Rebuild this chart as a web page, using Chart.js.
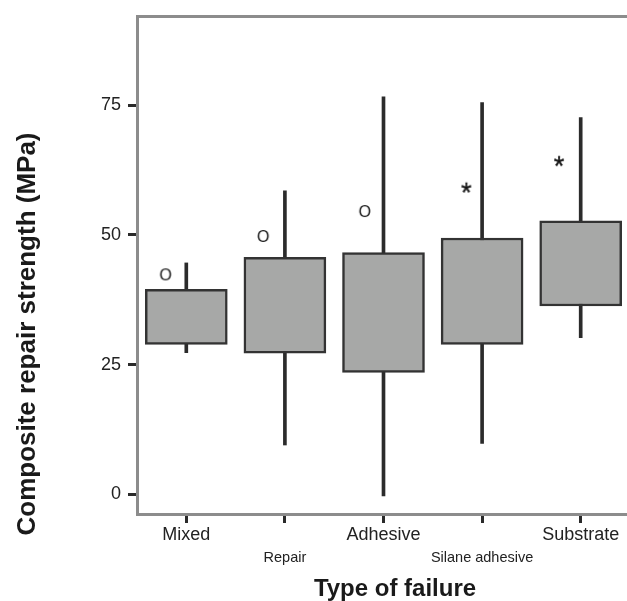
<!DOCTYPE html>
<html>
<head>
<meta charset="utf-8">
<script src="https://cdn.jsdelivr.net/npm/chart.js@4.4.1/dist/chart.umd.min.js"></script>
<style>
  html, body { margin: 0; padding: 0; background: #fff; overflow: hidden; }
</style>
</head>
<body>
<canvas id="boxChart" width="635" height="601"></canvas>
<script>
// categories on the x axis
const failureTypes = ["Mixed", "Repair", "Adhesive", "Silane adhesive", "Substrate"];
// box edges (quartiles) and whisker ends, MPa
const q1 = [28.9, 27.2, 23.5, 28.9, 36.3];
const q3 = [39.5, 45.7, 46.6, 49.4, 52.7];
const whiskerLow = [27.3, 9.5, -0.3, 9.8, 30.2];
const whiskerHigh = [44.6, 58.5, 76.6, 75.5, 72.6];
// outliers (o) and extremes (*), x given as category position
const outlierPos = [-0.21, 0.78, 1.81, 2.84, 3.78];
const outlierVal = [42.4, 49.8, 54.6, 59.1, 64.2];
const outlierMark = ["O", "O", "O", "*", "*"];
const yTicks = [0, 25, 50, 75];
const yTitle = "Composite repair strength (MPa)";
const xTitle = "Type of failure";

const fontFamily = "'Liberation Sans', Arial, sans-serif";
Chart.defaults.font.family = fontFamily;
Chart.defaults.color = "#222";

const axisGrey = "#8c8c8c";
const tickDark = "#2a2a2a";

// 🔹 SPSS-like text markers for outliers
function makeMarker(ch, size, stroke) {
  let c = document.createElement("canvas");
  c.width = 24;
  c.height = 24;
  let g = c.getContext("2d");
  g.font = size + "px " + fontFamily;
  g.fillStyle = "#141414";
  g.strokeStyle = "#141414";
  g.lineWidth = stroke;
  g.textAlign = "center";
  g.textBaseline = "alphabetic";
  let m = g.measureText(ch);
  let h = m.actualBoundingBoxAscent - m.actualBoundingBoxDescent;
  g.fillText(ch, 12, 12 + h / 2);
  if (stroke) g.strokeText(ch, 12, 12 + h / 2);
  return c;
}
const markers = { O: makeMarker("O", 16, 0), "*": makeMarker("*", 27, 0.4) };

// 🔹 Axis titles placed like the SPSS output (slightly off the axis centre)
const titlePlugin = {
  id: "axisTitles",
  afterDraw(chart) {
    let g = chart.ctx;
    g.save();
    g.fillStyle = "#1a1a1a";
    g.textAlign = "center";
    g.textBaseline = "middle";
    g.font = "bold 24px " + fontFamily;
    g.fillText(xTitle, 395, 589);
    g.translate(28, 334);
    g.rotate(-Math.PI / 2);
    g.font = "bold 26px " + fontFamily;
    g.fillText(yTitle, 0, 0);
    g.restore();
  },
};

// 🔹 Render box plot
let ctx = document.getElementById("boxChart").getContext("2d");

new Chart(ctx, {
  type: "bar",
  data: {
    datasets: [
      {
        label: "outliers",
        type: "scatter",
        data: outlierPos.map((x, i) => ({ x: x, y: outlierVal[i] })),
        pointStyle: (c) => markers[outlierMark[c.dataIndex]],
        order: 0,
      },
      {
        label: "box",
        data: failureTypes.map((_, i) => ({ x: i, y: [q1[i], q3[i]] })),
        backgroundColor: "#a7a8a7",
        borderColor: "#333",
        borderWidth: 2.5,
        borderSkipped: false,
        barThickness: 82,
        grouped: false,
        order: 1,
      },
      {
        label: "whisker",
        data: failureTypes.map((_, i) => ({ x: i, y: [whiskerLow[i], whiskerHigh[i]] })),
        backgroundColor: "#2b2b2b",
        borderWidth: 0,
        barThickness: 3,
        grouped: false,
        order: 2,
      },
    ],
  },
  options: {
    responsive: false,
    animation: false,
    layout: { padding: { top: 16, right: 1, left: 0, bottom: 0 } },
    plugins: {
      legend: { display: false },
      tooltip: { enabled: false },
    },
    scales: {
      x: {
        type: "linear",
        position: "bottom",
        offset: false,
        min: -0.5,
        max: 4.5,
        afterBuildTicks: (s) => {
          s.ticks = failureTypes.map((_, i) => ({ value: i }));
        },
        grid: {
          offset: false,
          drawOnChartArea: false,
          tickLength: 9,
          tickWidth: 3,
          tickColor: tickDark,
        },
        border: { color: axisGrey, width: 3 },
        ticks: {
          autoSkip: false,
          maxRotation: 0,
          padding: 1,
          color: "#222",
          callback: (v) => (v % 2 ? ["", failureTypes[v]] : failureTypes[v]),
          font: (c) =>
            c.index % 2
              ? { size: 14.5, lineHeight: 1.55 }
              : { size: 18, lineHeight: 1.2 },
        },
        afterFit: (s) => {
          s.height = 87;
          s.paddingLeft = 0;
          s.paddingRight = 0;
        },
      },
      xTop: {
        type: "linear",
        position: "top",
        min: 0,
        max: 1,
        grid: { display: false, drawTicks: false },
        ticks: { display: false },
        border: { color: axisGrey, width: 3 },
        afterFit: (s) => {
          s.height = 0;
          s.paddingLeft = 0;
          s.paddingRight = 0;
        },
      },
      y: {
        type: "linear",
        min: -3.8,
        max: 92.2,
        afterBuildTicks: (s) => {
          s.ticks = yTicks.map((v) => ({ value: v }));
        },
        grid: {
          drawOnChartArea: false,
          tickLength: 9,
          tickWidth: 3,
          tickColor: tickDark,
        },
        border: { color: axisGrey, width: 3 },
        ticks: {
          padding: 7,
          color: "#222",
          font: { size: 18 },
        },
        afterFit: (s) => {
          s.width = 137;
          s.paddingTop = 0;
          s.paddingBottom = 0;
        },
      },
    },
  },
  plugins: [titlePlugin],
});
</script>
</body>
</html>
